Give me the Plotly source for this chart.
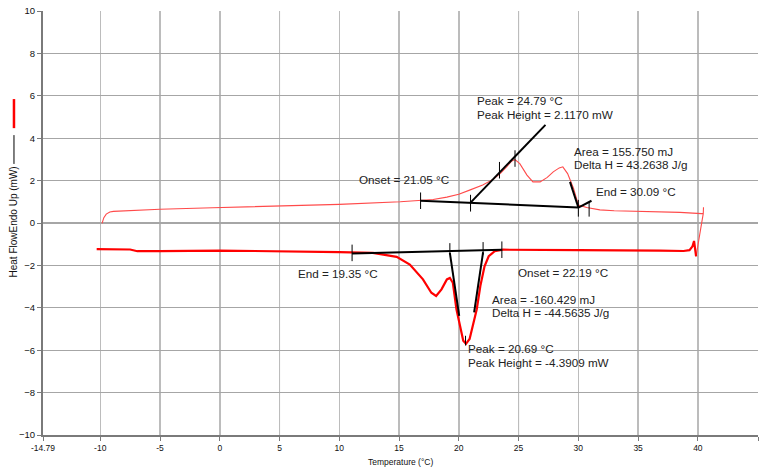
import plotly.graph_objects as go

# ---------------- data ----------------
# heating curve (upper, thin red)
heat_x = [-9.85, -9.7, -9.5, -9.2, -8.9, -8.0, -5.0, -0.6, 5.0, 10.0, 15.1, 16.8, 17.85,
          19.0, 20.0, 20.9, 22.0, 22.9, 23.5, 24.0, 24.4, 24.7, 25.1, 25.7, 26.2, 26.8,
          27.4, 27.9, 28.4, 28.7, 29.1, 29.6, 30.0, 30.7, 31.8, 33.0, 36.8, 38.5, 40.3,
          40.45, 40.47, 40.45, 40.3, 39.85]
heat_y = [-0.02, 0.25, 0.42, 0.52, 0.55, 0.58, 0.65, 0.72, 0.80, 0.88, 1.00, 1.05, 1.11,
          1.22, 1.36, 1.55, 1.79, 2.07, 2.35, 2.65, 2.91, 2.99, 2.80, 2.26, 1.94, 1.94,
          2.15, 2.41, 2.60, 2.65, 2.33, 1.63, 0.85, 0.73, 0.62, 0.58, 0.54, 0.50, 0.44,
          0.44, 0.74, 0.44, -0.05, -1.57]

# cooling curve (lower, thick red)
cool_x = [39.85, 39.75, 39.68, 39.55, 39.3, 38.8, 36.8, 30.0, 25.1, 23.7, 23.0, 22.5,
          22.15, 21.8, 21.5, 21.2, 20.9, 20.6, 20.37, 20.1, 19.8, 19.5, 19.25, 19.0,
          18.55, 18.1, 17.7, 17.0, 16.4, 15.9, 14.8, 12.8, 10.0, 5.0, 0.0, -5.0, -6.9,
          -7.5, -10.3]
cool_y = [-1.57, -1.2, -0.85, -1.1, -1.28, -1.32, -1.30, -1.28, -1.26, -1.26, -1.33, -1.57,
          -2.04, -2.97, -4.07, -4.85, -5.47, -5.70, -5.55, -4.85, -4.07, -2.82, -2.59, -2.66,
          -3.13, -3.44, -3.29, -2.66, -2.25, -1.96, -1.60, -1.41, -1.37, -1.34, -1.30, -1.33,
          -1.33, -1.25, -1.23]

# analysis construction lines (segments: x0, y0, x1, y1)
seg_x0 = [16.8, 30.0, 20.98, 29.3, 11.07, 19.25, 22.03]
seg_y0 = [1.05, 0.73, 0.96, 1.94, -1.44, -1.41, -1.38]
seg_x1 = [30.0, 31.1, 27.25, 30.0, 23.6, 20.03, 21.28]
seg_y1 = [0.73, 1.05, 4.63, 0.73, -1.26, -4.38, -4.22]

# small vertical marker ticks (x, y_low, y_high)
mark_x = [16.8, 20.98, 23.4, 24.7, 30.0, 30.9, 11.07, 19.25, 22.03, 23.6, 20.56]
mark_lo = [0.66, 0.54, 2.10, 2.65, 0.30, 0.30, -1.80, -1.49, -1.49, -1.65, -5.78]
mark_hi = [1.44, 1.33, 2.88, 3.43, 1.09, 1.00, -1.02, -0.95, -0.90, -0.87, -5.32]

# result labels (text, x, y)
label_text = ["Peak = 24.79 °C", "Peak Height = 2.1170 mW", "Area = 155.750 mJ",
              "Delta H = 43.2638 J/g", "Onset = 21.05 °C", "End = 30.09 °C",
              "End = 19.35 °C", "Onset = 22.19 °C", "Area = -160.429 mJ",
              "Delta H = -44.5635 J/g", "Peak = 20.69 °C", "Peak Height = -4.3909 mW"]
label_x = [21.33, 21.33, 29.49, 29.49, 11.48, 31.28, 6.35, 24.76, 22.63, 22.63, 20.62, 20.57]
label_y = [5.77, 5.10, 3.38, 2.754, 2.07, 1.475, -2.40, -2.35, -3.63, -4.225, -5.94, -6.57]

x_tickvals = [-14.79, -10, -5, 0, 5, 10, 15, 20, 25, 30, 35, 40, 45.03]
x_ticktext = ["-14.79", "-10", "-5", "0", "5", "10", "15", "20", "25", "30", "35", "40", "45.03"]
y_tickvals = [-10, -8, -6, -4, -2, 0, 2, 4, 6, 8, 10]
dark_grid_x = [-5, 5, 15, 25, 35]

# ---------------- figure ----------------
fig = go.Figure()

fig.add_trace(go.Scatter(x=heat_x, y=heat_y, mode="lines",
                         line=dict(color="#ff4a4a", width=1.1), hoverinfo="skip"))
fig.add_trace(go.Scatter(x=cool_x, y=cool_y, mode="lines",
                         line=dict(color="#ff0000", width=2.2), hoverinfo="skip"))

sx, sy = [], []
for a, b, c, d in zip(seg_x0, seg_y0, seg_x1, seg_y1):
    sx += [a, c, None]
    sy += [b, d, None]
fig.add_trace(go.Scatter(x=sx, y=sy, mode="lines",
                         line=dict(color="#000000", width=2), hoverinfo="skip"))

mx, my = [], []
for a, lo, hi in zip(mark_x, mark_lo, mark_hi):
    mx += [a, a, None]
    my += [lo, hi, None]
fig.add_trace(go.Scatter(x=mx, y=my, mode="lines",
                         line=dict(color="#000000", width=1), hoverinfo="skip"))

txt_font = dict(family="Liberation Sans, Arial, sans-serif", size=11.7, color="#222222")
for t, x, y in zip(label_text, label_x, label_y):
    fig.add_annotation(x=x, y=y, xref="x", yref="y", text=t, showarrow=False,
                       xanchor="left", yanchor="middle", font=txt_font)

# darker vertical grid lines
for gx in dark_grid_x:
    fig.add_shape(type="line", xref="x", yref="paper", x0=gx, x1=gx, y0=0, y1=1,
                  line=dict(color="#8e8e8e", width=1), layer="below")

# axis titles and legend-style markers
fig.add_annotation(x=0.5, y=-0.0625, xref="paper", yref="paper",
                   text="Temperature (°C)", showarrow=False,
                   xanchor="center", yanchor="middle",
                   font=dict(family="Liberation Sans, Arial, sans-serif", size=8.5, color="#111111"))
fig.add_annotation(x=-0.0406, y=0.5035, xref="paper", yref="paper",
                   text="Heat FlowEndo Up (mW)", showarrow=False, textangle=-90,
                   xanchor="center", yanchor="middle",
                   font=dict(family="Liberation Sans, Arial, sans-serif", size=10, color="#111111"))
fig.add_shape(type="line", xref="paper", yref="paper", x0=-0.0406, x1=-0.0406,
              y0=0.7237, y1=0.7923, line=dict(color="#ff0000", width=2.5))
fig.add_shape(type="line", xref="paper", yref="paper", x0=-0.0406, x1=-0.0406,
              y0=0.6393, y1=0.7073, line=dict(color="#000000", width=1))

fig.update_layout(
    width=763, height=472,
    margin=dict(l=43, r=5, t=8, b=37),
    paper_bgcolor="white", plot_bgcolor="white",
    showlegend=False,
    xaxis=dict(range=[-14.79, 45.03], tickvals=x_tickvals, ticktext=x_ticktext,
               showgrid=True, gridcolor="#bcbcbc", gridwidth=1.5,
               zeroline=False, showline=True, linecolor="#7a7a7a", linewidth=2,
               ticks="outside", ticklen=4, tickcolor="#7a7a7a",
               tickfont=dict(family="Liberation Sans, Arial, sans-serif", size=8.5, color="#111111")),
    yaxis=dict(range=[-10, 10], tickvals=y_tickvals,
               showgrid=True, gridcolor="#a6a6a6", gridwidth=1.2,
               zeroline=False, showline=True, linecolor="#7a7a7a", linewidth=2,
               ticks="outside", ticklen=4, tickcolor="#7a7a7a",
               tickfont=dict(family="Liberation Sans, Arial, sans-serif", size=9.5, color="#111111")),
)

fig.write_html("out.html",
               config={"displayModeBar": False, "staticPlot": True},
               post_script="document.documentElement.style.margin='0';"
                           "document.body.style.margin='0';"
                           "document.body.style.padding='0';"
                           "document.body.style.overflow='hidden';")
